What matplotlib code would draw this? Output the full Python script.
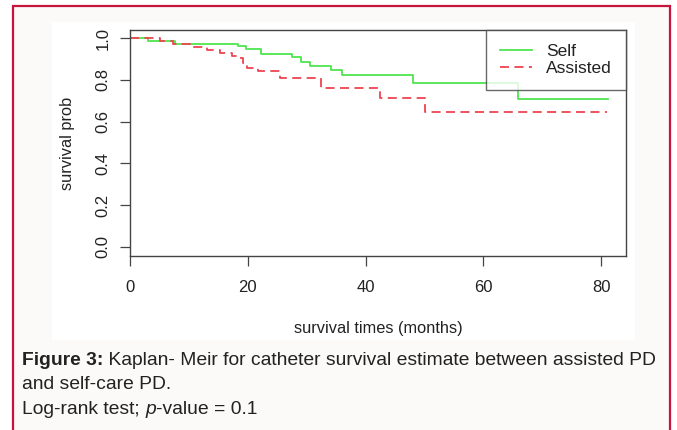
import matplotlib
matplotlib.use("Agg")
import matplotlib.pyplot as plt
from matplotlib.patches import Rectangle

plt.rcParams["font.family"] = ["Liberation Sans", "DejaVu Sans"]

# Kaplan-Meier step data (months, survival prob)
self_times = [0, 3.1, 7.6, 18.3, 19.7, 22.2, 27.5, 29.0, 30.6, 34.1, 36.0, 48.0, 65.9, 81.2]
self_surv = [1.0, 0.987, 0.975, 0.963, 0.949, 0.923, 0.909, 0.887, 0.867, 0.846, 0.826, 0.787, 0.707, 0.707]

assisted_times = [0, 5.1, 7.3, 10.2, 13.1, 15.3, 17.3, 18.7, 19.2, 19.9, 21.7, 25.5, 32.4, 42.4, 50.1, 81.0]
assisted_surv = [1.0, 0.988, 0.975, 0.959, 0.942, 0.928, 0.916, 0.904, 0.880, 0.856, 0.843, 0.810, 0.760, 0.712, 0.646, 0.646]

x_ticks = [0, 20, 40, 60, 80]
y_ticks = [0.0, 0.2, 0.4, 0.6, 0.8, 1.0]

W, H = 677, 430
fig = plt.figure(figsize=(W / 100, H / 100), dpi=100, facecolor="white")

# page decoration: bordered caption box and white plot image
bg = fig.add_axes([0, 0, 1, 1])
bg.set_xlim(0, W)
bg.set_ylim(H, 0)
bg.axis("off")
bg.add_patch(Rectangle((13, 5.5), 657, 440, facecolor="#fcf9f9", edgecolor="#c8143c", lw=1.6))
bg.add_patch(Rectangle((52, 22), 583, 318, facecolor="white", edgecolor="none"))

ax = fig.add_axes([130 / W, 1 - 256 / H, (626 - 130) / W, (256 - 30) / H])
ax.step(self_times, self_surv, where="post", color="#4ee64e", lw=1.3, label="Self")
ax.step(assisted_times, assisted_surv, where="post", color="#ee4450", lw=1.3,
        dashes=(5, 3), label="Assisted")

ax.set_xlim(0, 84.2)
ax.set_ylim(-0.045, 1.04)
ax.set_xticks(x_ticks)
ax.set_yticks(y_ticks)
ax.set_xticklabels([str(t) for t in x_ticks])
ax.set_yticklabels(["%.1f" % t for t in y_ticks], rotation=90, va="center")
ax.tick_params(length=7, width=0.9, color="#444444", labelsize=12, labelcolor="#222222", pad=7)
ax.tick_params(axis="x", pad=10)
for s in ax.spines.values():
    s.set_color("#444444")
    s.set_linewidth(1.0)
ax.set_xlabel("survival times (months)", fontsize=11.8, color="#222222", labelpad=19)
ax.set_ylabel("survival prob", fontsize=11.8, color="#222222", labelpad=15)

leg = ax.legend(loc="upper right", fontsize=12.5, frameon=True, fancybox=False,
                borderaxespad=0, handlelength=1.8, handletextpad=0.85,
                borderpad=0.8, labelspacing=0.12)
leg.get_frame().set_edgecolor("#444444")
leg.get_frame().set_linewidth(1.0)
for t in leg.get_texts():
    t.set_color("#222222")

# caption
cap_size = 13.9
cap_col = "#222222"
t1 = bg.text(22, 365, "Figure 3:", fontsize=cap_size, fontweight="bold", color=cap_col, va="baseline")
bg.annotate(" Kaplan- Meir for catheter survival estimate between assisted PD",
            xy=(1, 0), xycoords=t1, va="bottom", fontsize=cap_size, color=cap_col)
bg.text(22, 389, "and self-care PD.", fontsize=cap_size, color=cap_col, va="baseline")
t3 = bg.text(22, 414, "Log-rank test; ", fontsize=cap_size, color=cap_col, va="baseline")
t4 = bg.annotate("p", xy=(1, 0), xycoords=t3, va="bottom", fontsize=cap_size,
                 fontstyle="italic", color=cap_col)
bg.annotate("-value = 0.1", xy=(1, 0), xycoords=t4, va="bottom", fontsize=cap_size, color=cap_col)

fig.savefig("out.png", dpi=100)
